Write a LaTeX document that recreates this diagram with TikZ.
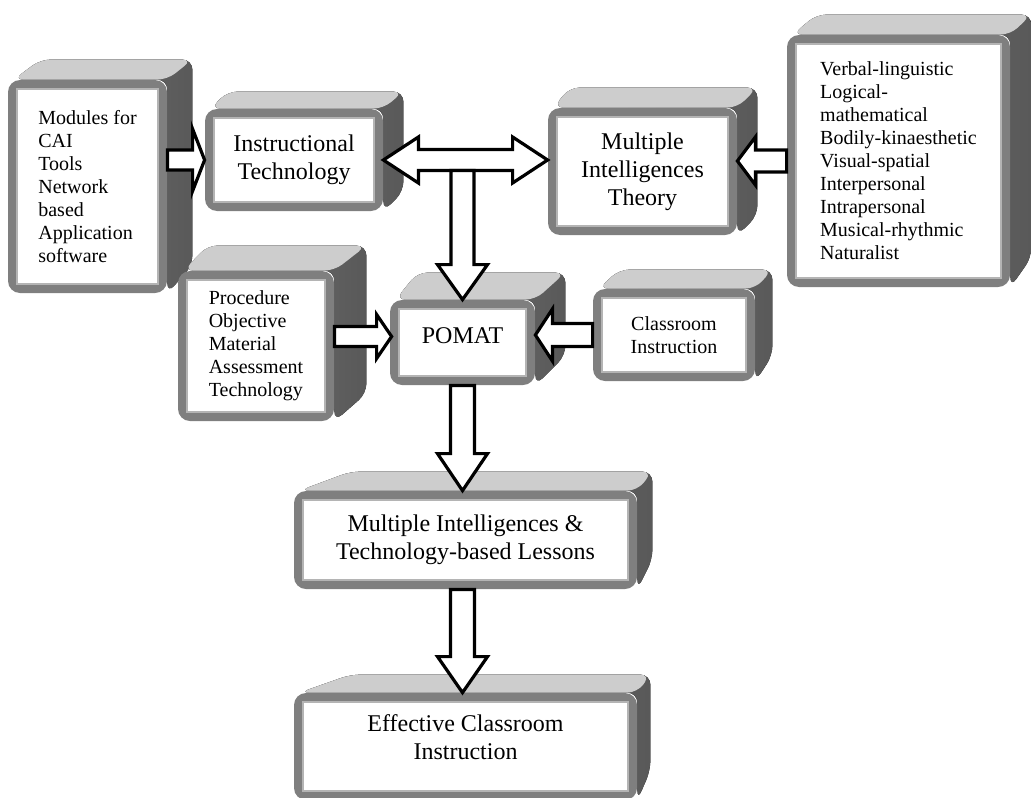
\documentclass[tikz,border=0pt]{standalone}
\usepackage{fontspec}
\setmainfont{Liberation Serif}
\usetikzlibrary{backgrounds,calc}

\definecolor{framegray}{HTML}{7F7F7F}
\definecolor{rimgray}{HTML}{B4B4B4}
\definecolor{topgray}{HTML}{CDCDCD}
\definecolor{sidelight}{HTML}{767676}
\definecolor{sidedark}{HTML}{595959}

\tikzset{
	box3d/.style={fill=framegray, rounded corners=6pt, inner sep=0pt, align=center,
		path picture={\draw[sharp corners, draw=rimgray, line width=0.8pt, fill=white]
			($(path picture bounding box.south west)+(4.5pt,4.5pt)$) rectangle
			($(path picture bounding box.north east)+(-4.5pt,-4.5pt)$);}},
	facetop/.style={fill=topgray, rounded corners=5pt},
	faceside/.style={left color=sidelight, right color=sidedark, rounded corners=5pt},
	bigarrow/.style={draw=black, fill=white, line width=1.6pt, line join=miter},
	small/.style={font=\fontsize{10}{11.5}\selectfont},
	large/.style={font=\fontsize{12}{14}\selectfont}
}

% hollow block arrow: tail, tip, half shaft, half head, head length
\newcommand{\blockarrow}[5]{%
	\coordinate (hb) at ($#2!#5!#1$);
	\draw[bigarrow] ($#1!#3!90:#2$) -- ($(hb)!#3!-90:#1$) -- ($(hb)!#4!-90:#1$) -- #2
		-- ($(hb)!#4!90:#1$) -- ($(hb)!#3!90:#1$) -- ($#1!#3!-90:#2$) -- cycle;}

% hollow block arrow with two heads
\newcommand{\twowayarrow}[5]{%
	\coordinate (ha) at ($#1!#5!#2$);
	\coordinate (hb) at ($#2!#5!#1$);
	\draw[bigarrow] #1 -- ($(ha)!#4!90:#2$) -- ($(ha)!#3!90:#2$) -- ($(hb)!#3!-90:#1$)
		-- ($(hb)!#4!-90:#1$) -- #2 -- ($(hb)!#4!90:#1$) -- ($(hb)!#3!90:#1$)
		-- ($(ha)!#3!-90:#2$) -- ($(ha)!#4!-90:#2$) -- cycle;}

\begin{document}
\begin{tikzpicture}[x=0.5pt, y=-0.5pt]
	
	\useasboundingbox (0,0) rectangle (1031,797);
	
	% Front faces of the boxes
	\node[box3d, small, align=left, minimum width=79.5pt, minimum height=106.5pt] (mod) at (87.5,186.5)
		{Modules for\\CAI\\Tools\\Network\\based\\Application\\software};
	\node[box3d, large, minimum width=89pt, minimum height=51pt] (it) at (294,160)
		{Instructional\\Technology};
	\node[box3d, large, minimum width=94.5pt, minimum height=63.5pt] (mit) at (642.5,171.5)
		{Multiple\\Intelligences\\Theory};
	\node[box3d, small, align=left, minimum width=111.5pt, minimum height=126pt] (verb) at (898.5,161)
		{Verbal-linguistic\\Logical-\\mathematical\\Bodily-kinaesthetic\\Visual-spatial\\Interpersonal\\Intrapersonal\\Musical-rhythmic\\Naturalist};
	\node[box3d, small, align=left, minimum width=78pt, minimum height=75pt] (proc) at (256,346)
		{Procedure\\Objective\\Material\\Assessment\\Technology};
	\node[box3d, large, minimum width=72.5pt, minimum height=42.5pt, text depth=7pt] (pomat) at (462.5,342.5)
		{POMAT};
	\node[box3d, small, minimum width=81pt, minimum height=46pt] (cls) at (674,335)
		{Classroom\\Instruction};
	\node[box3d, large, minimum width=171.5pt, minimum height=49pt] (mil) at (465.5,540)
		{Multiple Intelligences \&\\Technology-based Lessons};
	\node[box3d, large, minimum width=171.5pt, minimum height=53.5pt, text depth=9pt] (eff) at (465.5,746.5)
		{Effective Classroom\\Instruction};
	
	% Depth of the boxes (top and right faces)
	\begin{scope}[on background layer]
		\foreach \bx/\ex/\ey/\el/\eb in {mod/25/20/33/28, it/20/17/23/20, mit/20/20/22/20,
			verb/21/20/30/30, proc/32/25/30/28, pomat/30/27/28/30, cls/17/19/27/26,
			mil/15/19/57/30, eff/13/18/57/30}{
			\fill[faceside] ($(\bx.north west)+(6,0)$) -- ($(\bx.north west)+(\el,-\ey)$)
				-- ($(\bx.north east)+(\ex,-\ey)$) -- ($(\bx.south east)+(\ex,-\eb)$)
				-- (\bx.south east) -- (\bx.north east) -- cycle;
			\fill[facetop] ($(\bx.north west)+(6,0)$) -- ($(\bx.north west)+(\el,-\ey)$)
				-- ($(\bx.north east)+(\ex,-\ey)$) -- (\bx.north east) -- cycle;
		}
	\end{scope}
	
	% Arrows
	\coordinate (tee) at ($(pomat.north |- it.east)+(0,10.5)$);
	\coordinate (pin) at ($(pomat.west)+(2,-6)$);
	\blockarrow{(mod.east |- it.west)}{(it.west)}{5pt}{15.5pt}{6pt}
	\twowayarrow{(it.east)}{(mit.west |- it.east)}{5.25pt}{11.5pt}{17.5pt}
	\blockarrow{(tee)}{(pomat.north)}{5.75pt}{12.5pt}{17.5pt}
	\blockarrow{(proc.east |- pin)}{(pin)}{5pt}{11pt}{7.5pt}
	\blockarrow{(cls.west)}{(pomat.east |- cls.west)}{5.75pt}{13pt}{8.5pt}
	\blockarrow{(verb.west)}{(mit.east |- verb.west)}{5.5pt}{12pt}{9pt}
	\blockarrow{(pomat.south)}{(pomat.south |- mil.north)}{6pt}{12.5pt}{18.5pt}
	\blockarrow{(pomat.south |- mil.south)}{(pomat.south |- eff.north)}{6pt}{12.5pt}{18pt}
	
\end{tikzpicture}
\end{document}
